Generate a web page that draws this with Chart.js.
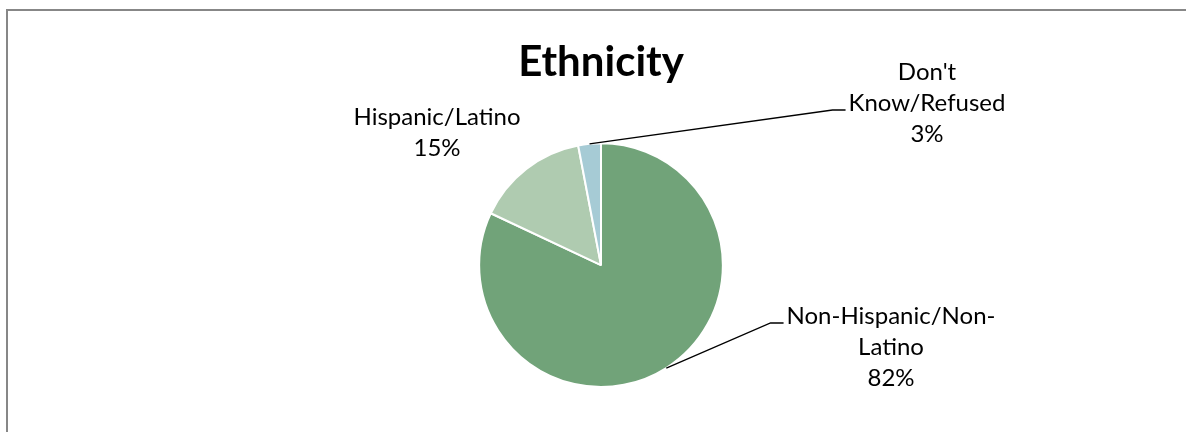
<!DOCTYPE html>
<html lang="en">
<head>
  <meta charset="UTF-8">
  <title>Ethnicity</title>
  <script src="https://cdn.jsdelivr.net/npm/chart.js"></script>
  <style>
    html, body { margin: 0; padding: 0; background: #fff; }
    #wrap { position: relative; width: 1186px; height: 432px; }
  </style>
</head>
<body>
  <div id="wrap"><canvas id="ethnicityChart" width="1186" height="432"></canvas></div>

  <script>
    // data
    var categories = ['Non-Hispanic/Non-Latino', 'Hispanic/Latino', "Don't Know/Refused"];
    var percents = [82, 15, 3];
    var sliceColors = ['#71a379', '#afcbb0', '#a6cbd5'];

    // how each label is broken into lines + where it sits
    var labelLines = [
      ['Non-Hispanic/Non-', 'Latino'],
      ['Hispanic/Latino'],
      ["Don't", 'Know/Refused']
    ];
    var labelSpots = [
      { x: 891, y: 316, leader: true, hook: 0 },
      { x: 437, y: 117, leader: false },
      { x: 927, y: 72, leader: true, hook: 1 }
    ];
    var LABEL_FONT = '24px Lato, "Open Sans", sans-serif';
    var LINE_H = 31;

    // outer frame
    var framePlugin = {
      id: 'frame',
      beforeDraw: function(chart) {
        var c = chart.ctx;
        c.save();
        c.strokeStyle = '#878787';
        c.lineWidth = 2;
        c.strokeRect(7, 10, 1250, 500);
        c.restore();
      }
    };

    // data labels with leader lines
    var labelPlugin = {
      id: 'pieLabels',
      afterDraw: function(chart) {
        var c = chart.ctx;
        var arcs = chart.getDatasetMeta(0).data;
        c.save();
        c.font = LABEL_FONT;
        c.fillStyle = '#000';
        c.textAlign = 'center';
        c.textBaseline = 'middle';
        arcs.forEach(function(arc, i) {
          var spot = labelSpots[i];
          var lines = labelLines[i].concat([percents[i] + '%']);
          lines.forEach(function(t, k) {
            c.fillText(t, spot.x, spot.y + k * LINE_H);
          });
          if (spot.leader) {
            var p = arc.getProps(['x', 'y', 'startAngle', 'endAngle', 'outerRadius'], true);
            var mid = (p.startAngle + p.endAngle) / 2;
            var sx = p.x + Math.cos(mid) * p.outerRadius;
            var sy = p.y + Math.sin(mid) * p.outerRadius;
            var w = c.measureText(lines[spot.hook]).width;
            var ly = spot.y + spot.hook * LINE_H + 7;
            var lx = spot.x - w / 2 - 3;
            c.beginPath();
            c.strokeStyle = '#000';
            c.lineWidth = 1.3;
            c.moveTo(sx, sy);
            c.lineTo(lx - 13, ly);
            c.lineTo(lx, ly);
            c.stroke();
          }
        });
        c.restore();
      }
    };

    var ctx = document.getElementById('ethnicityChart').getContext('2d');
    var ethnicityChart = new Chart(ctx, {
      type: 'pie',
      data: {
        labels: categories,
        datasets: [{
          data: percents,
          backgroundColor: sliceColors,
          borderColor: '#ffffff',
          borderWidth: 2
        }]
      },
      options: {
        responsive: false,
        animation: false,
        layout: { padding: { top: 38, bottom: 44, left: 16, right: 0 } },
        plugins: {
          legend: { display: false },
          tooltip: { enabled: false },
          title: {
            display: true,
            text: 'Ethnicity',
            color: '#000',
            font: { family: 'Lato, "Open Sans", sans-serif', size: 42, weight: 'bold', lineHeight: 1.15 },
            padding: { top: 0, bottom: 56 }
          }
        }
      },
      plugins: [framePlugin, labelPlugin]
    });
  </script>
</body>
</html>
